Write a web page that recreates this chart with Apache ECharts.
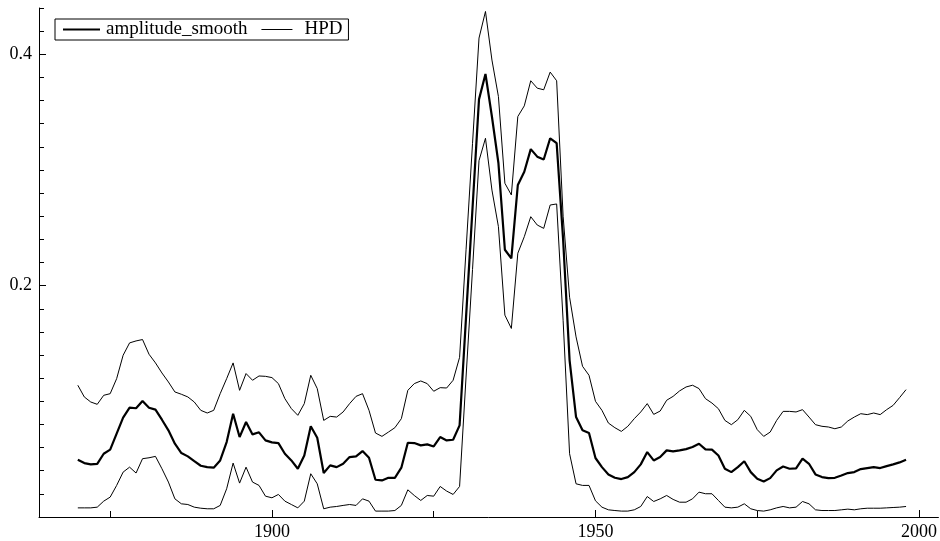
<!DOCTYPE html>
<html>
<head>
<meta charset="utf-8">
<script src="https://cdn.jsdelivr.net/npm/echarts@6/dist/echarts.min.js"></script>
<style>
  html, body { margin: 0; padding: 0; background: #fff; }
  #chart { width: 940px; height: 541px; }
</style>
</head>
<body>
<div id="chart"></div>
<script>
// Yearly series, 1870 to 1998
const FIRST_YEAR = 1870;

const amplitudeSmooth = [
  0.0495, 0.0466, 0.0455, 0.0460, 0.0547, 0.0582, 0.0720, 0.0859, 0.0945, 0.0940,
  0.1003, 0.0945, 0.0928, 0.0841, 0.0749, 0.0634, 0.0553, 0.0524, 0.0483, 0.0443,
  0.0431, 0.0426, 0.0489, 0.0648, 0.0893, 0.0691, 0.0821, 0.0714, 0.0732, 0.0662,
  0.0645, 0.0639, 0.0547, 0.0489, 0.0417, 0.0532, 0.0784, 0.0685, 0.0380, 0.0446,
  0.0431, 0.0460, 0.0518, 0.0524, 0.0570, 0.0512, 0.0322, 0.0316, 0.0339, 0.0339,
  0.0426, 0.0642, 0.0639, 0.0619, 0.0628, 0.0610, 0.0691, 0.0662, 0.0668, 0.0792,
  0.1730, 0.2670, 0.3610, 0.3830, 0.3460, 0.3060, 0.2310, 0.2235, 0.2870, 0.2985,
  0.3180, 0.3115, 0.3090, 0.3274, 0.3231, 0.2400, 0.1355, 0.0864, 0.0749, 0.0726,
  0.0510, 0.0431, 0.0368, 0.0339, 0.0328, 0.0345, 0.0388, 0.0455, 0.0561, 0.0489,
  0.0518, 0.0576, 0.0567, 0.0576, 0.0587, 0.0605, 0.0633, 0.0584, 0.0582, 0.0532,
  0.0417, 0.0388, 0.0431, 0.0482, 0.0388, 0.0330, 0.0307, 0.0336, 0.0403, 0.0437,
  0.0417, 0.0420, 0.0504, 0.0460, 0.0368, 0.0345, 0.0336, 0.0339, 0.0359, 0.0380,
  0.0388, 0.0414, 0.0423, 0.0431, 0.0423, 0.0440, 0.0455, 0.0472, 0.0495
];

const hpdUpper = [
  0.1139, 0.1038, 0.0994, 0.0974, 0.1052, 0.1066, 0.1196, 0.1398, 0.1505, 0.1522,
  0.1534, 0.1407, 0.1332, 0.1245, 0.1167, 0.1081, 0.1061, 0.1038, 0.0994, 0.0922,
  0.0899, 0.0922, 0.1066, 0.1196, 0.1332, 0.1095, 0.1240, 0.1182, 0.1219, 0.1216,
  0.1205, 0.1153, 0.1023, 0.0937, 0.0879, 0.0980, 0.1225, 0.1110, 0.0835, 0.0870,
  0.0864, 0.0908, 0.0980, 0.1043, 0.1066, 0.0922, 0.0726, 0.0697, 0.0734, 0.0772,
  0.0850, 0.1095, 0.1153, 0.1176, 0.1153, 0.1087, 0.1118, 0.1115, 0.1182, 0.1380,
  0.2310, 0.3230, 0.4140, 0.4370, 0.3950, 0.3635, 0.2885, 0.2784, 0.3462, 0.3554,
  0.3771, 0.3707, 0.3693, 0.3846, 0.3771, 0.2600, 0.1900, 0.1557, 0.1303, 0.1225,
  0.1000, 0.0922, 0.0812, 0.0772, 0.0740, 0.0784, 0.0850, 0.0908, 0.0980, 0.0887,
  0.0916, 0.1009, 0.1043, 0.1090, 0.1124, 0.1139, 0.1110, 0.1023, 0.0985, 0.0936,
  0.0835, 0.0798, 0.0841, 0.0922, 0.0870, 0.0755, 0.0697, 0.0734, 0.0835, 0.0913,
  0.0913, 0.0908, 0.0928, 0.0864, 0.0798, 0.0784, 0.0778, 0.0763, 0.0778, 0.0830,
  0.0864, 0.0893, 0.0885, 0.0899, 0.0885, 0.0928, 0.0965, 0.1032, 0.1101
];

const hpdLower = [
  0.0079, 0.0079, 0.0079, 0.0085, 0.0137, 0.0172, 0.0273, 0.0388, 0.0431, 0.0380,
  0.0504, 0.0512, 0.0524, 0.0417, 0.0302, 0.0157, 0.0114, 0.0108, 0.0085, 0.0076,
  0.0071, 0.0071, 0.0100, 0.0244, 0.0466, 0.0293, 0.0431, 0.0302, 0.0273, 0.0180,
  0.0166, 0.0195, 0.0137, 0.0108, 0.0079, 0.0137, 0.0374, 0.0287, 0.0071, 0.0085,
  0.0091, 0.0100, 0.0108, 0.0100, 0.0157, 0.0137, 0.0051, 0.0051, 0.0051, 0.0056,
  0.0100, 0.0235, 0.0186, 0.0143, 0.0186, 0.0180, 0.0264, 0.0224, 0.0195, 0.0264,
  0.1210, 0.2140, 0.3080, 0.3274, 0.2826, 0.2510, 0.1745, 0.1630, 0.2280, 0.2423,
  0.2596, 0.2524, 0.2495, 0.2697, 0.2706, 0.1700, 0.0547, 0.0287, 0.0273, 0.0273,
  0.0140, 0.0085, 0.0062, 0.0056, 0.0051, 0.0051, 0.0062, 0.0091, 0.0177, 0.0134,
  0.0157, 0.0186, 0.0152, 0.0128, 0.0128, 0.0157, 0.0215, 0.0201, 0.0201, 0.0143,
  0.0085, 0.0079, 0.0085, 0.0114, 0.0071, 0.0056, 0.0051, 0.0062, 0.0079, 0.0091,
  0.0079, 0.0085, 0.0134, 0.0114, 0.0062, 0.0056, 0.0056, 0.0056, 0.0062, 0.0068,
  0.0062, 0.0071, 0.0076, 0.0076, 0.0076, 0.0079, 0.0082, 0.0085, 0.0091
];

const xMajorTicks = [1900, 1950, 2000];
const xMinorTicks = [1875, 1925, 1975];
const yLabelTicks = [0.2, 0.4];

const years = amplitudeSmooth.map((_, i) => FIRST_YEAR + i);
const pairs = (vals) => vals.map((v, i) => [years[i], v]);

const FONT = '"Liberation Serif", "DejaVu Serif", serif';
const INK = '#000';

// Legend swatches: a plain horizontal stroke inside a 38x19 box.
// The two tiny corner segments pin the path's bounding box so the stroke keeps its thickness.
const swatch = (len, y0, y1) =>
  'path://M0,0L0.01,0M0,' + y0 + 'L' + len + ',' + y0 + 'L' + len + ',' + y1 + 'L0,' + y1 +
  'ZM38,19L37.99,19';

const chart = echarts.init(document.getElementById('chart'), null, { renderer: 'canvas' });

const baseX = {
  type: 'value',
  min: 1864,
  max: 2003,
  position: 'bottom',
  splitLine: { show: false },
  axisLine: { show: true, onZero: false, lineStyle: { color: INK, width: 1 } }
};

const baseY = {
  type: 'value',
  min: 0,
  max: 0.44,
  position: 'left',
  splitLine: { show: false }
};

chart.setOption({
  animation: false,
  backgroundColor: '#fff',
  grid: { left: 39, right: 1, top: 8, bottom: 24, containLabel: false },
  legend: {
    data: [
      { name: 'amplitude_smooth', icon: swatch(37, 8.4, 10.6) },
      { name: 'HPD', icon: swatch(31, 9, 10) }
    ],
    left: 55,
    top: 19,
    orient: 'horizontal',
    backgroundColor: '#fff',
    borderColor: INK,
    borderWidth: 1,
    borderRadius: 0,
    padding: [1, 6, 1, 8],
    itemWidth: 38,
    itemHeight: 19,
    itemGap: 14,
    itemStyle: { color: INK, borderWidth: 0 },
    textStyle: { fontFamily: FONT, fontSize: 19, color: INK }
  },
  xAxis: [
    Object.assign({}, baseX, {
      axisTick: { show: true, inside: true, length: 7, customValues: xMajorTicks, lineStyle: { color: INK } },
      axisLabel: {
        show: true, customValues: xMajorTicks, margin: 6,
        fontFamily: FONT, fontSize: 18, color: INK,
        formatter: (v) => String(v)
      }
    }),
    Object.assign({}, baseX, {
      axisLine: { show: false },
      axisTick: { show: true, inside: true, length: 6, customValues: xMinorTicks, lineStyle: { color: INK } },
      axisLabel: { show: false }
    })
  ],
  yAxis: [
    Object.assign({}, baseY, {
      interval: 0.02,
      axisLine: { show: true, onZero: false, lineStyle: { color: INK, width: 1 } },
      axisTick: { show: true, inside: true, length: 5, lineStyle: { color: INK } },
      axisLabel: { show: false }
    }),
    Object.assign({}, baseY, {
      axisLine: { show: false },
      axisTick: { show: true, inside: true, length: 7, customValues: yLabelTicks, lineStyle: { color: INK } },
      axisLabel: {
        show: true, customValues: yLabelTicks, margin: 7,
        fontFamily: FONT, fontSize: 18, color: INK,
        formatter: (v) => v.toFixed(1)
      }
    })
  ],
  series: [
    {
      name: 'amplitude_smooth',
      type: 'line',
      xAxisIndex: 0, yAxisIndex: 0,
      data: pairs(amplitudeSmooth),
      symbol: 'none',
      lineStyle: { color: INK, width: 2.2 },
      itemStyle: { color: INK },
      z: 3
    },
    {
      name: 'HPD',
      type: 'line',
      xAxisIndex: 0, yAxisIndex: 0,
      data: pairs(hpdUpper),
      symbol: 'none',
      lineStyle: { color: INK, width: 1 },
      itemStyle: { color: INK }
    },
    {
      name: 'HPD',
      type: 'line',
      xAxisIndex: 0, yAxisIndex: 0,
      data: pairs(hpdLower),
      symbol: 'none',
      lineStyle: { color: INK, width: 1 },
      itemStyle: { color: INK }
    }
  ]
});
</script>
</body>
</html>
